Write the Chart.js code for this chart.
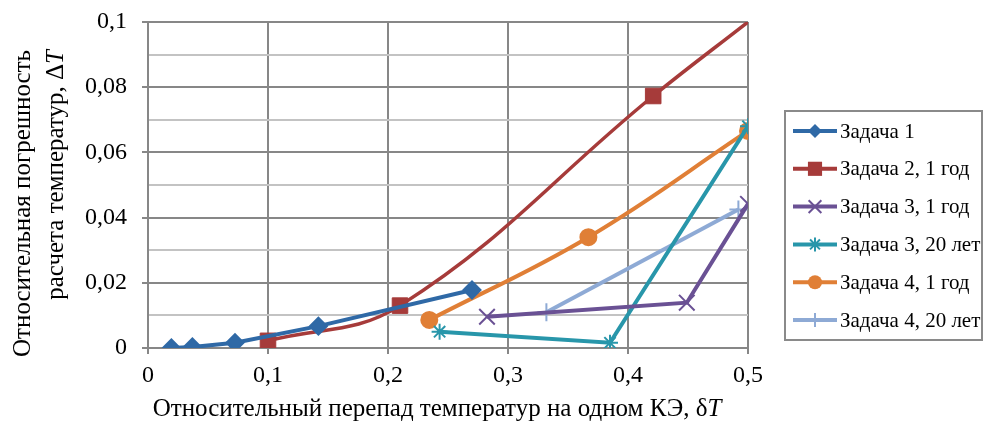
<!DOCTYPE html>
<html>
<head>
<meta charset="utf-8">
<script src="https://cdn.jsdelivr.net/npm/chart.js@4.4.0/dist/chart.umd.min.js"></script>
<style>
  html, body { margin: 0; padding: 0; background: #fff; }
  #wrap { width: 984px; height: 426px; position: relative; }
</style>
</head>
<body>
<div id="wrap"><canvas id="errChart"></canvas></div>
<script>
// values
const seriesNames = ['Задача 1', 'Задача 2, 1 год', 'Задача 3, 1 год', 'Задача 3, 20 лет', 'Задача 4, 1 год', 'Задача 4, 20 лет'];
const task1X = [0.0195, 0.037, 0.0725, 0.142, 0.27];
const task1Y = [0.0, 0.0003, 0.0016, 0.0067, 0.0178];
const task2X = [0.1, 0.21, 0.421, 0.5];
const task2Y = [0.0022, 0.013, 0.0773, 0.1];
const task3aX = [0.2825, 0.449, 0.5];
const task3aY = [0.0096, 0.0139, 0.0442];
const task3bX = [0.243, 0.385, 0.5];
const task3bY = [0.005, 0.0016, 0.068];
const task4aX = [0.2344, 0.367, 0.5];
const task4aY = [0.0086, 0.034, 0.0666];
const task4bX = [0.332, 0.492];
const task4bY = [0.011, 0.0425];
const xTickLabels = ['0', '0,1', '0,2', '0,3', '0,4', '0,5'];
const yTickLabels = ['0', '0,02', '0,04', '0,06', '0,08', '0,1'];

const colors = ['#2f69a6', '#a63b3a', '#6a5194', '#2896aa', '#e07f36', '#8eaad5'];
const styles = ['rectRot', 'rect', 'crossRot', 'star', 'circle', 'cross'];
const FONT = "'Liberation Serif', 'Times New Roman', serif";
const GRID_MAJOR = '#878787';
const GRID_MINOR = '#c3c3c3';

function pts(xs, ys) {
    return xs.map((x, i) => ({ x: x, y: ys[i] }));
}

function makeSet(i, xs, ys, extra) {
    return Object.assign({
        label: seriesNames[i],
        data: pts(xs, ys),
        showLine: true,
        borderColor: colors[i],
        backgroundColor: colors[i],
        borderWidth: 4,
        pointStyle: styles[i],
        pointBackgroundColor: colors[i],
        pointBorderColor: colors[i],
        pointBorderWidth: 2,
        pointRadius: 8,
        tension: 0
    }, extra || {});
}

const datasets = [
    makeSet(0, task1X, task1Y, { pointRadius: 8.5 }),
    makeSet(1, task2X, task2Y, { tension: 0.4, borderWidth: 3.5, pointRadius: [11, 11, 11, 0], pointBorderWidth: 1 }),
    makeSet(2, task3aX, task3aY, { pointRadius: 11 }),
    makeSet(3, task3bX, task3bY, { pointRadius: 8 }),
    makeSet(4, task4aX, task4aY, { tension: 0.4, pointRadius: 8 }),
    makeSet(5, task4bX, task4bY, { pointRadius: 9 })
];

function isMajorY(v) {
    return Math.round(v * 100) % 2 === 0;
}

// draw a marker like the ones on the plot, for the legend
function drawMarker(ctx, style, x, y, r, color) {
    ctx.save();
    ctx.fillStyle = color;
    ctx.strokeStyle = color;
    ctx.lineWidth = 2;
    ctx.beginPath();
    if (style === 'rectRot') {
        ctx.moveTo(x - r, y); ctx.lineTo(x, y - r); ctx.lineTo(x + r, y); ctx.lineTo(x, y + r);
        ctx.closePath(); ctx.fill();
    } else if (style === 'rect') {
        const s = r * Math.SQRT1_2;
        ctx.rect(x - s, y - s, 2 * s, 2 * s); ctx.fill();
    } else if (style === 'circle') {
        ctx.arc(x, y, r, 0, Math.PI * 2); ctx.fill();
    } else {
        const d = r * Math.SQRT1_2;
        if (style === 'crossRot' || style === 'star') {
            ctx.moveTo(x - d, y - d); ctx.lineTo(x + d, y + d);
            ctx.moveTo(x - d, y + d); ctx.lineTo(x + d, y - d);
        }
        if (style === 'cross' || style === 'star') {
            ctx.moveTo(x, y - r); ctx.lineTo(x, y + r);
            ctx.moveTo(x - r, y); ctx.lineTo(x + r, y);
        }
        ctx.stroke();
    }
    ctx.restore();
}

// axis titles with italic T, plus the boxed legend on the right
const decorPlugin = {
    id: 'decor',
    afterDraw(chart) {
        const ctx = chart.ctx;
        ctx.save();
        ctx.fillStyle = '#000';
        ctx.textBaseline = 'alphabetic';

        // x title
        const xa = 'Относительный перепад температур на одном КЭ, δ';
        ctx.font = '25px ' + FONT;
        const w1 = ctx.measureText(xa).width;
        ctx.font = 'italic 25px ' + FONT;
        const w2 = ctx.measureText('T').width;
        let sx = 437 - (w1 + w2) / 2;
        ctx.font = '25px ' + FONT;
        ctx.fillText(xa, sx, 416);
        ctx.font = 'italic 25px ' + FONT;
        ctx.fillText('T', sx + w1, 416);

        // y title, two lines, rotated, end aligned at the top
        ctx.save();
        ctx.rotate(-Math.PI / 2);
        ctx.textBaseline = 'middle';
        ctx.textAlign = 'right';
        ctx.font = '25px ' + FONT;
        ctx.fillText('Относительная погрешность', -50, 23);
        ctx.font = 'italic 25px ' + FONT;
        const wt = ctx.measureText('T').width;
        ctx.fillText('T', -50, 56);
        ctx.font = '25px ' + FONT;
        ctx.fillText('расчета температур, Δ', -50 - wt, 56);
        ctx.restore();

        // legend
        ctx.strokeStyle = '#8a8a8a';
        ctx.lineWidth = 2;
        ctx.strokeRect(785, 111, 197, 229);
        ctx.font = '21px ' + FONT;
        ctx.textAlign = 'left';
        ctx.textBaseline = 'middle';
        chart.data.datasets.forEach((ds, i) => {
            const y = 131 + i * 37.8;
            ctx.strokeStyle = colors[i];
            ctx.lineWidth = 4;
            ctx.beginPath();
            ctx.moveTo(793, y);
            ctx.lineTo(837, y);
            ctx.stroke();
            let r = 7;
            if (styles[i] === 'rect') r = 10;
            if (styles[i] === 'crossRot') r = 9;
            drawMarker(ctx, styles[i], 815, y, r, colors[i]);
            ctx.fillStyle = '#000';
            ctx.fillText(ds.label, 840, y + 1);
        });
        ctx.restore();
    }
};

const ctx = document.getElementById('errChart').getContext('2d');
new Chart(ctx, {
    type: 'scatter',
    data: { datasets: datasets },
    options: {
        responsive: true,
        maintainAspectRatio: false,
        animation: false,
        layout: { padding: { left: 0, right: 236, top: 22, bottom: 0 } },
        plugins: {
            legend: { display: false },
            tooltip: { enabled: false }
        },
        scales: {
            x: {
                type: 'linear',
                min: 0,
                max: 0.5,
                afterFit: s => { s.height = 78; s.paddingLeft = 0; s.paddingRight = 0; },
                afterBuildTicks: s => {
                    s.ticks = xTickLabels.map((t, i) => ({ value: i * 0.1 }));
                },
                ticks: {
                    autoSkip: false,
                    maxRotation: 0,
                    padding: 7,
                    color: '#000',
                    font: { family: FONT, size: 24 },
                    callback: (v, i) => xTickLabels[i]
                },
                grid: { color: GRID_MAJOR, lineWidth: 2, tickLength: 6, tickColor: GRID_MAJOR },
                border: { color: GRID_MAJOR, width: 2 }
            },
            y: {
                type: 'linear',
                min: 0,
                max: 0.1,
                afterFit: s => { s.width = 148; s.paddingTop = 0; s.paddingBottom = 0; },
                afterBuildTicks: s => {
                    const t = [];
                    for (let i = 0; i <= 10; i++) t.push({ value: i / 100 });
                    s.ticks = t;
                },
                ticks: {
                    autoSkip: false,
                    padding: 15,
                    color: '#000',
                    font: { family: FONT, size: 24 },
                    callback: v => {
                        const k = Math.round(v * 100);
                        return k % 2 === 0 ? yTickLabels[k / 2] : '';
                    }
                },
                grid: {
                    lineWidth: 2,
                    tickLength: 6,
                    color: c => isMajorY(c.tick.value) ? GRID_MAJOR : GRID_MINOR,
                    tickColor: c => isMajorY(c.tick.value) ? GRID_MAJOR : 'rgba(0,0,0,0)'
                },
                border: { color: GRID_MAJOR, width: 2 }
            }
        }
    },
    plugins: [decorPlugin]
});
</script>
</body>
</html>
